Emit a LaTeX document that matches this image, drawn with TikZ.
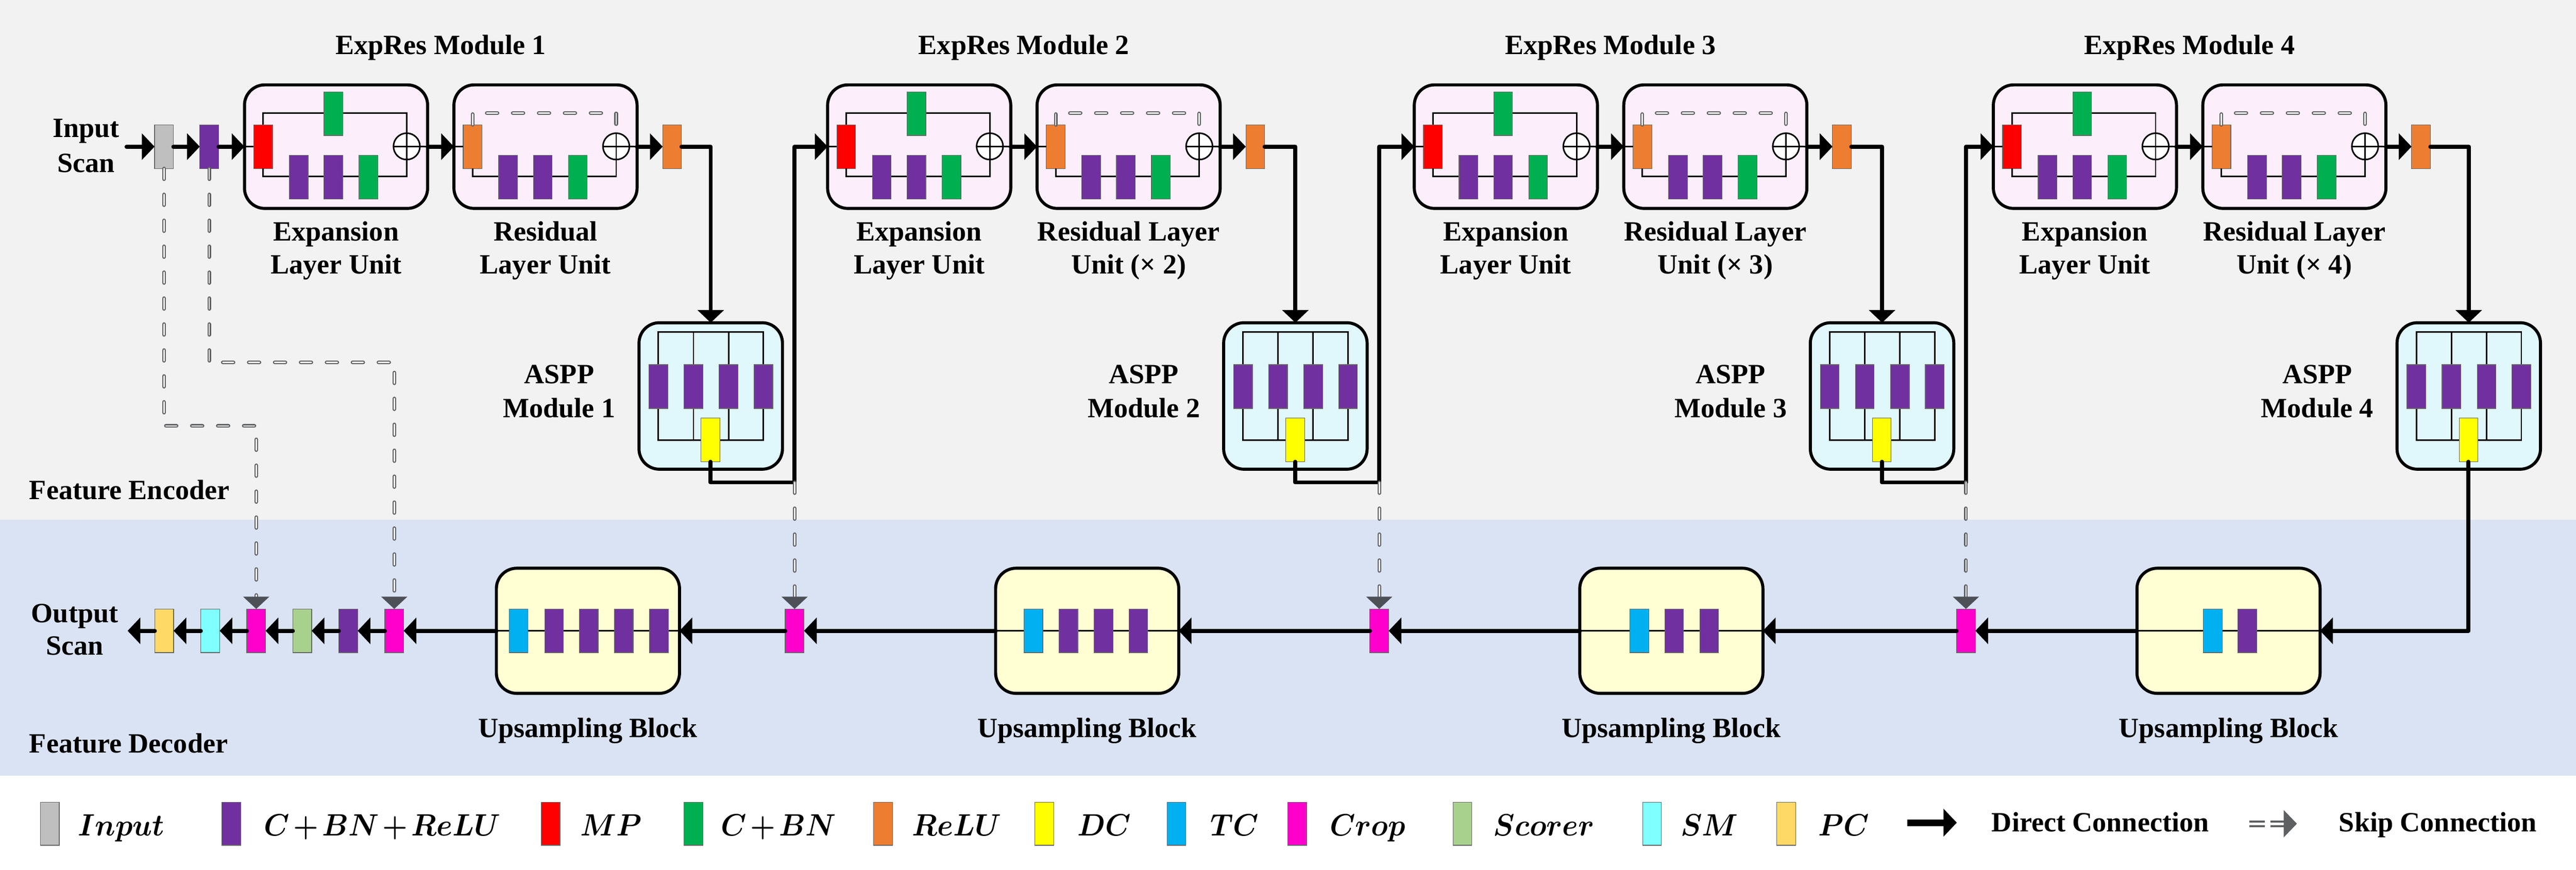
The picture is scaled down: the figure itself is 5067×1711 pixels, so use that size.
\documentclass[tikz,border=0pt]{standalone}
\usepackage{fontspec}
\setmainfont{Liberation Serif}
\usetikzlibrary{arrows.meta,calc}
\definecolor{bgtop}{HTML}{F2F2F2}
\definecolor{bgdec}{HTML}{DAE3F3}
\definecolor{fexp}{HTML}{FCEFFB}
\definecolor{faspp}{HTML}{E0F7FB}
\definecolor{fup}{HTML}{FFFFD3}
\definecolor{kIn}{HTML}{BFBFBF}
\definecolor{kCBR}{HTML}{7030A0}
\definecolor{kMP}{HTML}{FF0000}
\definecolor{kCBN}{HTML}{00B050}
\definecolor{kReLU}{HTML}{ED7D31}
\definecolor{kDC}{HTML}{FFFF00}
\definecolor{kTC}{HTML}{00B0F0}
\definecolor{kCrop}{HTML}{FF00CC}
\definecolor{kSc}{HTML}{A9D18E}
\definecolor{kSM}{HTML}{7FFFFF}
\definecolor{kPC}{HTML}{FFD966}
\definecolor{skipgray}{HTML}{5F6062}
\definecolor{skipin}{HTML}{F4F4F4}
\definecolor{skiphead}{HTML}{4D5057}
\newcommand\lblfont{\bfseries\fontsize{15.6}{18}\selectfont}
\newcommand\legfont{\fontsize{17.28}{21}\selectfont\boldmath\medmuskip=2mu}
\begin{document}
\begin{tikzpicture}[x=0.01cm,y=-0.01cm,
  blk/.style={draw=black!60, line width=0.012cm, minimum width=0.37cm, minimum height=0.86cm, inner sep=0pt, outer sep=0pt},
  bIn/.style={blk,fill=kIn}, bCBR/.style={blk,fill=kCBR}, bMP/.style={blk,fill=kMP},
  bCBN/.style={blk,fill=kCBN}, bReLU/.style={blk,fill=kReLU}, bDC/.style={blk,fill=kDC},
  bTC/.style={blk,fill=kTC}, bCrop/.style={blk,fill=kCrop}, bSc/.style={blk,fill=kSc},
  bSM/.style={blk,fill=kSM}, bPC/.style={blk,fill=kPC},
  boxE/.style={draw=black, line width=0.06cm, rounded corners=0.4cm, fill=fexp, minimum width=3.6cm, minimum height=2.43cm, inner sep=0pt, outer sep=0pt},
  boxA/.style={boxE, fill=faspp, minimum width=2.82cm, minimum height=2.88cm},
  boxU/.style={boxE, fill=fup, minimum width=3.6cm, minimum height=2.46cm},
  addnode/.style={circle, draw=black, line width=0.03cm, fill=white, minimum size=0.52cm, inner sep=0pt, outer sep=0pt,
    path picture={\draw[line width=0.03cm] (path picture bounding box.north) -- (path picture bounding box.south) (path picture bounding box.west) -- (path picture bounding box.east);}},
  thinl/.style={draw=black, line width=0.03cm},
  conn/.style={draw=black, line width=0.08cm, line cap=round, line join=round, -{Triangle[width=0.51cm,length=0.25cm]}},
  dashl/.style={draw=skipgray, line width=0.022cm, double=skipin, double distance=0.028cm, line cap=round, dash pattern=on 0.21cm off 0.30cm},
  skipline/.style={dashl, -{Triangle[width=0.51cm,length=0.24cm,color=skiphead]}},
  lbl/.style={font=\lblfont, inner sep=0pt, anchor=base},
  lblw/.style={lbl, anchor=base west},
  leg/.style={font=\legfont, inner sep=0pt, anchor=base west}]
\useasboundingbox (0,0) rectangle (5067,1711);
\fill[white] (0,0) rectangle (5067,1711);
\fill[bgtop] (0,0) rectangle (5067,1023);
\fill[bgdec] (0,1023) rectangle (5067,1526);

% ---------------- decoder ----------------
\foreach \i/\cx in {1/1156.5, 2/2138.5, 3/3287.5, 4/4383.5} {
  \node[boxU] (u\i) at (\cx,1241) {};
  \draw[thinl] (u\i.west) -- (u\i.east);
  \node[lbl] (ul\i) at (\cx,1451) {Upsampling Block};
}
\node[bTC] (ut1) at (1020,1241) {};
\foreach \x [count=\q] in {1090,1158,1227,1296} { \node[bCBR] (uc1\q) at (\x,1241) {}; }
\node[bTC] (ut2) at (2032.5,1241) {};
\foreach \x [count=\q] in {2101.5,2170.5,2239} { \node[bCBR] (uc2\q) at (\x,1241) {}; }
\node[bTC] (ut3) at (3224.5,1241) {};
\foreach \x [count=\q] in {3293,3362} { \node[bCBR] (uc3\q) at (\x,1241) {}; }
\node[bTC] (ut4) at (4352.5,1241) {};
\node[bCBR] (uc41) at (4420.5,1241) {};

\node[bCrop] (c1) at (1563,1241) {};
\node[bCrop] (c2) at (2713,1241) {};
\node[bCrop] (c3) at (3867,1241) {};
\node[bCrop] (cl2) at (775.5,1241) {};
\node[bCBR] (dp) at (685,1241) {};
\node[bSc] (sc) at (594.5,1241) {};
\node[bCrop] (cl1) at (504,1241) {};
\node[bSM] (sm) at (413.5,1241) {};
\node[bPC] (pc) at (323,1241) {};
\coordinate (outp) at (251,1241);

\draw[conn] (u4.west) -- (c3.east);
\draw[conn] (c3.west) -- (u3.east);
\draw[conn] (u3.west) -- (c2.east);
\draw[conn] (c2.west) -- (u2.east);
\draw[conn] (u2.west) -- (c1.east);
\draw[conn] (c1.west) -- (u1.east);
\draw[conn] (u1.west) -- (cl2.east);
\draw[conn] (cl2.west) -- (dp.east);
\draw[conn] (dp.west) -- (sc.east);
\draw[conn] (sc.west) -- (cl1.east);
\draw[conn] (cl1.west) -- (sm.east);
\draw[conn] (sm.west) -- (pc.east);
\draw[conn] (pc.west) -- (outp);

% ---------------- encoder ----------------
\node[bIn] (inp) at (322.5,288.5) {};
\node[bCBR] (p0) at (411.5,288.5) {};
\coordinate (src) at (249,288.5);

\foreach \i/\B/\A in {1/481/1257, 2/1628/2407, 3/2782/3561, 4/3921/4715} {
  \node[boxE] (e\i) at (\B+180,288.5) {};
  \node[boxE] (r\i) at (\B+592,288.5) {};
  \node[boxA] (a\i) at (\A+141,779) {};
  % expansion unit
  \node[bMP] (mp\i) at (\B+36.5,288.5) {};
  \node[addnode] (se\i) at (\B+319,288) {};
  \draw[thinl] (mp\i.north) -- ++(0,-23) -| (se\i.north);
  \draw[thinl] (mp\i.south) -- ++(0,16) -| (se\i.south);
  \draw[thinl] (e\i.west) -- (mp\i.west);
  \draw[thinl] (se\i.east) -- (e\i.east);
  \node[bCBN] (eg\i) at (\B+174.5,223.5) {};
  \node[bCBR] (epa\i) at (\B+106.5,348.5) {};
  \node[bCBR] (epb\i) at (\B+174.5,348.5) {};
  \node[bCBN] (egb\i) at (\B+243.5,348.5) {};
  % residual unit
  \node[bReLU] (ro\i) at (\B+448.5,288.5) {};
  \node[addnode] (sr\i) at (\B+731,288) {};
  \draw[dashl] (ro\i.north) -- ++(0,-23) -| (sr\i.north |- ro\i.north);
  \draw[thinl] (ro\i.south) -- ++(0,16) -| (sr\i.south);
  \draw[thinl] (r\i.west) -- (ro\i.west);
  \draw[thinl] (sr\i.east) -- (r\i.east);
  \node[bCBR] (rpa\i) at (\B+518.5,348.5) {};
  \node[bCBR] (rpb\i) at (\B+586.5,348.5) {};
  \node[bCBN] (rgb\i) at (\B+655.5,348.5) {};
  % ReLU after module
  \node[bReLU] (oo\i) at (\B+841,288.5) {};
  % ASPP
  \draw[thinl] (\A+38,653) rectangle (\A+244.5,866);
  \draw[thinl] (\A+107,653) -- (\A+107,866);
  \draw[thinl] (\A+176,653) -- (\A+176,866);
  \foreach \p [count=\q] in {38,107,176,244.5} { \node[bCBR] (ap\i\q) at (\A+\p,760.5) {}; }
  \node[bDC] (dc\i) at (\A+140.5,865.5) {};
  % connections
  \draw[conn] (e\i.east) -- (r\i.west);
  \draw[conn] (r\i.east) -- (oo\i.west);
  \draw[conn] (oo\i.east) -| (a\i.north);
  % labels
  \node[lbl] (tm\i) at (\B+386,107) {ExpRes Module \i};
  \node[lbl] (tea\i) at (\B+180,474) {Expansion};
  \node[lbl] (teb\i) at (\B+180,539) {Layer Unit};
  \node[lbl] (taa\i) at (\A-157,754) {ASPP};
  \node[lbl] (tab\i) at (\A-157,821) {Module \i};
}
\node[lbl] (tra1) at (1073,474) {Residual};
\node[lbl] (trb1) at (1073,539) {Layer Unit};
\foreach \i/\x in {2/2220, 3/3374, 4/4513} {
  \node[lbl] (tra\i) at (\x,474) {Residual Layer};
  \node[lbl] (trb\i) at (\x,539) {Unit (× \i)};
}

\draw[conn] (src) -- (inp.west);
\draw[conn] (inp.east) -- (p0.west);
\draw[conn] (p0.east) -- (e1.west);

\foreach \i/\j/\V in {1/2/1563, 2/3/2713, 3/4/3867} {
  \coordinate (cv\i) at (\V,949);
  \draw[conn] (dc\i.south) |- (cv\i) |- (e\j.west);
  \draw[skipline] (cv\i) -- (c\i.north);
}
\draw[conn] (dc4.south) |- (u4.east);

\coordinate (g1) at (504,838);
\coordinate (g2) at (775.5,713);
\draw[skipline] (inp.south) |- (g1) -- (cl1.north);
\draw[skipline] (p0.south) |- (g2) -- (cl2.north);

% side labels
\node[lbl] (tin1) at (169,270) {Input};
\node[lbl] (tin2) at (169,339) {Scan};
\node[lbl] (tout1) at (147,1225) {Output};
\node[lbl] (tout2) at (147,1289) {Scan};
\node[lblw] (tenc) at (57,982) {Feature Encoder};
\node[lblw] (tdec) at (57,1481) {Feature Decoder};

% ---------------- legend ----------------
\foreach \cx/\tx/\st/\t [count=\q] in {98/153/bIn/Input, 455/519/bCBR/C+BN+ReLU, 1083/1141/bMP/MP, 1364/1418/bCBN/C+BN, 1737/1794/bReLU/ReLU, 2054/2119/bDC/DC, 2314/2380/bTC/TC, 2551.5/2615/bCrop/Crop, 2876.5/2937/bSc/Scorer, 3249.5/3305/bSM/SM, 3513.5/3576/bPC/PC} {
  \node[\st, minimum height=0.85cm] (lg\q) at (\cx,1620.5) {};
  \node[leg] (lt\q) at (\tx,1644) {\scalebox{0.93}[1]{$\t$}};
}
\coordinate (ld1) at (3752,1618.5);
\coordinate (ld2) at (3849,1618.5);
\draw[draw=black, line width=0.13cm, -{Triangle[width=0.53cm,length=0.26cm]}] (ld1) -- (ld2);
\node[lblw] (ltd) at (3917,1636) {Direct Connection};
\coordinate (ls1) at (4424,1620.5);
\coordinate (ls2) at (4518,1620.5);
\draw[draw=skipgray, line width=0.04cm, double=white, double distance=0.05cm, dash pattern=on 0.31cm off 0.11cm, -{Triangle[width=0.53cm,length=0.26cm,color=skipgray]}] (ls1) -- (ls2);
\node[lblw] (lts) at (4600,1636) {Skip Connection};
\end{tikzpicture}
\end{document}
